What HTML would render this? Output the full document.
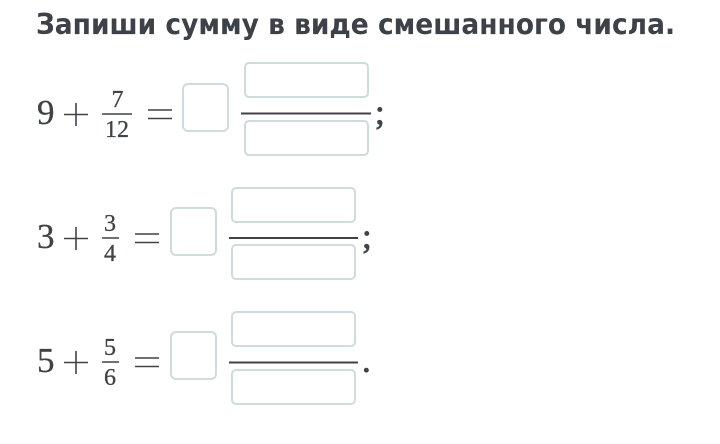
<!DOCTYPE html>
<html><head><meta charset="utf-8"><style>
html,body{margin:0;padding:0;background:#fff}
svg{display:block}
.t{font:bold 28.500px "DejaVu Sans",sans-serif;fill:#3d4148}
.m{font-family:"Liberation Serif",serif;fill:#3f4348;stroke:#3f4348;stroke-width:.3}
.b{font-size:35px}.s{font-size:24px}
.box{fill:#fff;stroke:#cddcdc;stroke-width:2}
.l{stroke:#3f4348;fill:none}
</style></head><body>
<svg width="720" height="444" viewBox="0 0 720 444" xmlns="http://www.w3.org/2000/svg">
<text class="t" x="36" y="34" textLength="639" lengthAdjust="spacingAndGlyphs">Запиши сумму в виде смешанного числа.</text>

<text class="m b" x="37" y="124">9</text>
<path class="l" stroke-width="1.6" d="M64 114.500H88M76 103V126"/>
<text class="m s" x="117.500" y="107" text-anchor="middle">7</text>
<path class="l" stroke-width="1.600" d="M102 114H132"/>
<text class="m s" x="117" y="137" text-anchor="middle">12</text>
<path class="l" stroke-width="1.600" d="M148 110H172M148 118.500H172"/>
<rect class="box" x="183" y="84" width="45" height="47" rx="5"/>
<rect class="box" x="245" y="63" width="123" height="34" rx="4"/>
<path class="l" stroke-width="2" d="M241 113.500H371"/>
<rect class="box" x="245" y="121" width="123" height="34" rx="4"/>
<text class="m b" x="375" y="124" style="stroke-width:.8">;</text>

<text class="m b" x="37" y="248">3</text>
<path class="l" stroke-width="1.6" d="M64 238.500H88M76 227V250"/>
<text class="m s" x="110" y="231" text-anchor="middle">3</text>
<path class="l" stroke-width="1.600" d="M102 238H119"/>
<text class="m s" x="110" y="261" text-anchor="middle">4</text>
<path class="l" stroke-width="1.600" d="M135 234H159M135 242.500H159"/>
<rect class="box" x="171" y="208" width="45" height="47" rx="5"/>
<rect class="box" x="232" y="188" width="123" height="34" rx="4"/>
<path class="l" stroke-width="2" d="M229 238H358"/>
<rect class="box" x="232" y="245" width="123" height="34" rx="4"/>
<text class="m b" x="362" y="248" style="stroke-width:.8">;</text>

<text class="m b" x="37" y="372">5</text>
<path class="l" stroke-width="1.6" d="M64 362.500H88M76 351V374"/>
<text class="m s" x="110" y="355" text-anchor="middle">5</text>
<path class="l" stroke-width="1.600" d="M102 362H119"/>
<text class="m s" x="110" y="385" text-anchor="middle">6</text>
<path class="l" stroke-width="1.600" d="M135 358H159M135 366.500H159"/>
<rect class="box" x="171" y="332" width="45" height="47" rx="5"/>
<rect class="box" x="232" y="312" width="123" height="34" rx="4"/>
<path class="l" stroke-width="2" d="M229 362.500H358"/>
<rect class="box" x="232" y="370" width="123" height="34" rx="4"/>
<text class="m b" x="362" y="372" style="stroke-width:.8">.</text>
</svg>
</body></html>
